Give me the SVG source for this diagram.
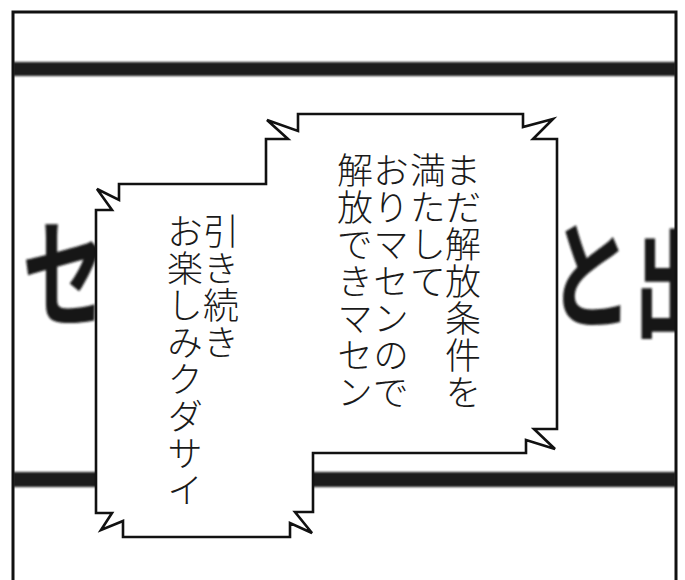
<svg xmlns="http://www.w3.org/2000/svg" width="685" height="580" viewBox="0 0 685 580">
  <defs>
    <clipPath id="panel"><rect x="13" y="12" width="663" height="600"/></clipPath>
    <filter id="soft" x="-10%" y="-10%" width="120%" height="120%"><feGaussianBlur stdDeviation="1.1"/></filter>
    <style>
      .bg { font-family: "Noto Sans CJK JP", "Noto Sans CJK SC", sans-serif; font-weight: 700; font-size: 118px; fill: #151515; }
      .band { fill: #1b1b1b; }
      .bubble { fill: #ffffff; stroke: #111111; stroke-width: 2.6; stroke-linejoin: miter; }
      .vt { font-family: "Noto Sans CJK JP", "Noto Sans CJK SC", sans-serif; font-weight: 300; font-size: 36px; fill: #1a1a1a; writing-mode: vertical-rl; letter-spacing: 1px; }
      .frame { fill: none; stroke: #111111; stroke-width: 3; }
    </style>
  </defs>
  <rect x="0" y="0" width="685" height="580" fill="#ffffff"/>
  <g id="background" clip-path="url(#panel)">
    <g filter="url(#soft)">
      <rect class="band" x="13" y="62" width="663" height="14"/>
      <rect class="band" x="13" y="472" width="663" height="15"/>
      <text class="bg" transform="translate(22,318) scale(0.72,1)">セ</text>
      <text class="bg" transform="translate(548,320) scale(0.72,1)">と</text>
      <text class="bg" transform="translate(633,328) scale(0.72,1)">出</text>
    </g>
  </g>
  <rect id="panel-frame" class="frame" x="13" y="12" width="663" height="600"/>
  <g id="bubble">
    <path class="bubble" d="M96,210 L112,210 L97,189 L119,200 L119,184 L266,184 L266,139 L288,139 L267,120 L298,131 L298,114 L523,114 L523,127 L553,119 L533,139 L557,139 L557,429 L534,429 L555,449 L526,440 L526,453 L313,453 L313,512 L295,512 L312,533 L290,523 L290,537 L123,537 L123,521 L101,530 L112,513 L96,513 Z"/>
  </g>
  <g id="text-right">
    <text class="vt" x="463" y="152">まだ解放条件を</text>
    <text class="vt" x="428" y="152">満たして</text>
    <text class="vt" x="391" y="152">おりマセンので</text>
    <text class="vt" x="355" y="152">解放できマセン</text>
  </g>
  <g id="text-left">
    <text class="vt" x="221" y="213">引き続き</text>
    <text class="vt" x="185" y="213">お楽しみクダサイ</text>
  </g>
</svg>
